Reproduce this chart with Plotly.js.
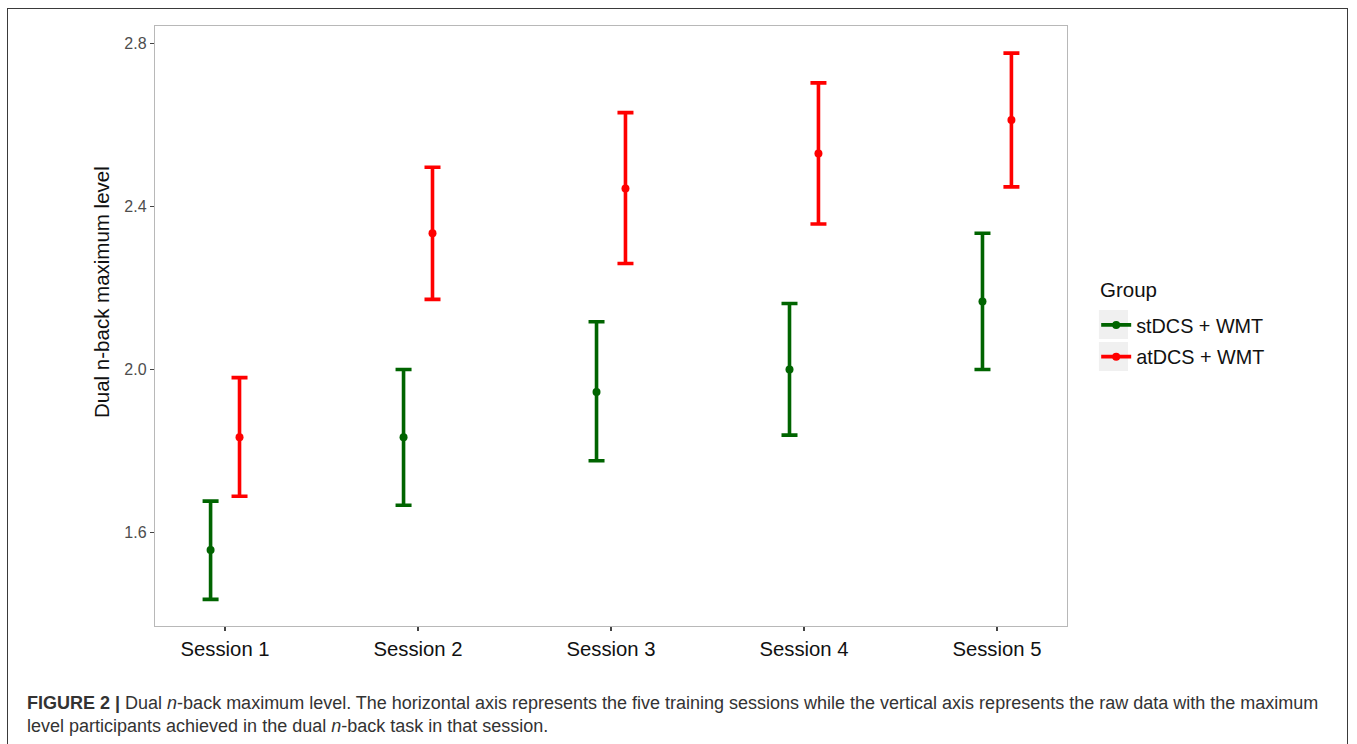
<!DOCTYPE html>
<html>
<head>
<meta charset="utf-8">
<script src="https://cdn.plot.ly/plotly-3.0.1.min.js"></script>
<style>
  html, body { margin: 0; padding: 0; background: #fff; overflow: hidden; }
  #wrap { position: relative; width: 1357px; height: 744px; }
  #chart { position: absolute; left: 0; top: 0; width: 1357px; height: 744px; }
  #frame { position: absolute; left: 7px; top: 8px; width: 1341px; height: 760px;
           border: 1.5px solid #3a3a3a; box-sizing: border-box; pointer-events: none; }
</style>
</head>
<body>
<div id="wrap">
  <div id="chart"></div>
  <div id="frame"></div>
</div>
<script>
// Training sessions
const sessions = ["Session 1", "Session 2", "Session 3", "Session 4", "Session 5"];

// Sham tDCS + working-memory training
const stdcsMean  = [1.557, 1.834, 1.945, 2.000, 2.167];
const stdcsUpper = [1.677, 2.000, 2.117, 2.162, 2.334];
const stdcsLower = [1.436, 1.667, 1.776, 1.839, 2.000];

// Active tDCS + working-memory training
const atdcsMean  = [1.834, 2.334, 2.444, 2.530, 2.612];
const atdcsUpper = [1.980, 2.496, 2.630, 2.703, 2.776];
const atdcsLower = [1.689, 2.172, 2.260, 2.357, 2.448];

const groupNames = ["stDCS + WMT", "atDCS + WMT"];
const groupColors = ["#006400", "#ff0000"];

const dodge = 0.075;
const pos = sessions.map((_, i) => i + 1);

function errorTrace(mean, upper, lower, shift, color) {
  return {
    type: "scatter",
    mode: "markers",
    x: pos.map(p => p + shift),
    y: mean,
    marker: { color: color, size: 8 },
    error_y: {
      type: "data",
      symmetric: false,
      array: upper.map((u, i) => u - mean[i]),
      arrayminus: lower.map((l, i) => mean[i] - l),
      color: color,
      thickness: 3.6,
      width: 8
    },
    showlegend: false,
    hoverinfo: "x+y"
  };
}

function legendKey(name, color, group) {
  return {
    type: "scatter",
    mode: "lines+markers",
    x: [null], y: [null],
    name: name,
    legendgroup: group,
    line: { color: color, width: 3.6 },
    marker: { color: color, size: 8 }
  };
}

const data = [
  errorTrace(stdcsMean, stdcsUpper, stdcsLower, -dodge, groupColors[0]),
  errorTrace(atdcsMean, atdcsUpper, atdcsLower, dodge, groupColors[1]),
  legendKey(groupNames[0], groupColors[0], "g1"),
  legendKey(groupNames[1], groupColors[1], "g2")
];

const font = "Liberation Sans, Arial, Helvetica, sans-serif";

// grey key boxes behind the legend symbols (paper coordinates)
const keyBox = (y0, y1) => ({
  type: "rect", xref: "paper", yref: "paper",
  x0: 1.035, x1: 1.0669, y0: y0, y1: y1,
  fillcolor: "#f0f0f0", line: { width: 0 }, layer: "below"
});

const layout = {
  width: 1357,
  height: 744,
  margin: { l: 155, r: 290, t: 26, b: 118 },
  paper_bgcolor: "rgba(0,0,0,0)",
  plot_bgcolor: "#ffffff",
  font: { family: font, color: "#000" },
  xaxis: {
    range: [0.637, 5.363],
    tickmode: "array",
    tickvals: pos,
    ticktext: sessions,
    showgrid: false,
    zeroline: false,
    showline: true,
    mirror: true,
    linecolor: "#b8b8b8",
    linewidth: 1.2,
    ticks: "outside",
    ticklen: 4,
    tickcolor: "#444",
    tickwidth: 1.2,
    tickfont: { size: 20.3, color: "#111" }
  },
  yaxis: {
    range: [1.3708, 2.8425],
    tickmode: "array",
    tickvals: [1.6, 2.0, 2.4, 2.8],
    ticktext: ["1.6", "2.0", "2.4", "2.8"],
    showgrid: false,
    zeroline: false,
    showline: true,
    mirror: true,
    linecolor: "#b8b8b8",
    linewidth: 1.2,
    ticks: "outside",
    ticklen: 4,
    tickcolor: "#444",
    tickwidth: 1.2,
    tickfont: { size: 16, color: "#4d4d4d" }
  },
  showlegend: true,
  legend: {
    x: 1.032, xanchor: "left",
    y: 0.5341, yanchor: "top",
    bgcolor: "rgba(0,0,0,0)",
    font: { size: 19.8, color: "#111" },
    itemwidth: 30,
    tracegroupgap: 3
  },
  shapes: [keyBox(0.4783, 0.5267), keyBox(0.425, 0.4733)],
  annotations: [
    {
      // y-axis title
      xref: "paper", yref: "paper",
      x: -0.0581, y: 0.5567, xanchor: "center", yanchor: "middle",
      textangle: -90, showarrow: false,
      font: { size: 20.5, color: "#111", family: font },
      text: "Dual n-back maximum level"
    },
    {
      // legend heading
      xref: "paper", yref: "paper",
      x: 1.0338, y: 0.56, xanchor: "left", yanchor: "middle",
      showarrow: false,
      font: { size: 20.5, color: "#111", family: font },
      text: "Group"
    },
    {
      xref: "paper", yref: "paper",
      x: -0.1425, y: -0.108, xanchor: "left", yanchor: "top", align: "left",
      showarrow: false,
      font: { size: 18, color: "#333", family: font },
      text: "<b>FIGURE 2 |</b> Dual <i>n</i>-back maximum level. The horizontal axis represents the five training sessions while the vertical axis represents the raw data with the maximum<br>level participants achieved in the dual <i>n</i>-back task in that session."
    }
  ]
};

Plotly.newPlot("chart", data, layout, { displayModeBar: false, staticPlot: true });
</script>
</body>
</html>
